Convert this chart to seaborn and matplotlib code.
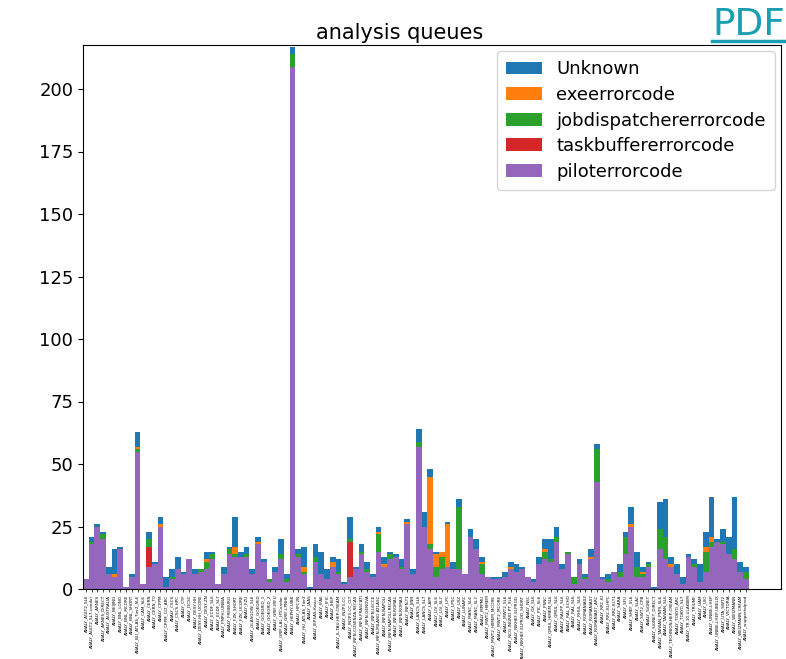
import matplotlib
matplotlib.use("Agg")
import matplotlib.pyplot as plt
from matplotlib.patches import Patch
from matplotlib.lines import Line2D
import numpy as np
import pandas as pd
import seaborn as sns

queues = [
    "ANALY_AGLT2_SL6", "ANALY_AGLT2_SL7-condor", "ANALY_ARNES", "ANALY_ARNES_DIRECT",
    "ANALY_AUSTRALIA", "ANALY_BEIJING", "ANALY_BNL_LONG", "ANALY_BNL_MCORE",
    "ANALY_BNL_SHORT", "ANALY_BU_ATLAS_Tier2_SL6", "ANALY_CAM_SL6", "ANALY_CERN",
    "ANALY_CERN_T0", "ANALY_CPPM", "ANALY_CPPM_CLT_ARC", "ANALY_CSCS",
    "ANALY_CSCS-HPC", "ANALY_CYF", "ANALY_DCSC", "ANALY_DESY-HH",
    "ANALY_DESY-HH_UCORE", "ANALY_DESY-ZN", "ANALY_ECDF_SL6", "ANALY_ECDF_SL7",
    "ANALY_FMPHI-UNIBA", "ANALY_FREIBURG", "ANALY_FZK_SHORT", "ANALY_FZK_UCORE",
    "ANALY_FZU", "ANALY_GLASGOW_SL6", "ANALY_GOEGRID", "ANALY_GOEGRID_1",
    "ANALY_GOEGRID_2", "ANALY_GRIF-IRFU", "ANALY_GRIF-LAL_HTCondor", "ANALY_GRIF-LPNHE",
    "ANALY_HEPHY-UIBK", "ANALY_HPC2N", "ANALY_HU_ATLAS_Tier2", "ANALY_IAAS",
    "ANALY_IEPSAS-Kosice", "ANALY_IFAE", "ANALY_IFIC", "ANALY_IHEP",
    "ANALY_IL-TAU-HEP-CREAM", "ANALY_IN2P3-CC", "ANALY_IN2P3-CC_CLT", "ANALY_INFN-COSENZA-RECAS",
    "ANALY_INFN-FRASCATI", "ANALY_INFN-GENOVA", "ANALY_INFN-LECCE", "ANALY_INFN-MILANO-ATLASC",
    "ANALY_INFN-NAPOLI", "ANALY_INFN-NAPOLI-RECAS", "ANALY_INFN-ROMA1", "ANALY_INFN-ROMA3",
    "ANALY_INFN-T1", "ANALY_JINR", "ANALY_LANCS_SL6", "ANALY_LANCS_SL7",
    "ANALY_LAPP", "ANALY_LIV_SL6", "ANALY_LIV_SL7", "ANALY_LPC",
    "ANALY_LPSC", "ANALY_LRZ", "ANALY_LUNARC", "ANALY_MANC_SL6",
    "ANALY_MANC_SL7", "ANALY_MPPMU", "ANALY_MWT2_HIMEM", "ANALY_MWT2_HIMEM_MCORE",
    "ANALY_MWT2_MCORE", "ANALY_MWT2_SL6", "ANALY_NCG-INGRID-PT_SL6", "ANALY_NIKHEF-ELPROD",
    "ANALY_NIKHEF-ELPROD_SHORT", "ANALY_NSC", "ANALY_OX_SL6", "ANALY_PIC_SL6",
    "ANALY_PSNC", "ANALY_QMUL_HIMEM_SL6", "ANALY_QMUL_SL6", "ANALY_RALPP_SL6",
    "ANALY_RAL_ECHO", "ANALY_RAL_SL6", "ANALY_RHUL_SL6", "ANALY_ROMANIA02",
    "ANALY_ROMANIA07", "ANALY_ROMANIA07_ARC", "ANALY_RRC-KI", "ANALY_RRC-KI-HPC",
    "ANALY_RRC-KI-T1", "ANALY_SARA", "ANALY_SFU", "ANALY_SHEF_SL6",
    "ANALY_SLAC", "ANALY_SWT2_CPB", "ANALY_SiGNET", "ANALY_SiGNET_DIRECT",
    "ANALY_TAIWAN_PNFS_SL6", "ANALY_TAIWAN_SL6", "ANALY_TECHNION-HEP-CREAM", "ANALY_TOKYO_ARC",
    "ANALY_TOKYO_SL7", "ANALY_TR-10-ULAKBIM", "ANALY_TRIUMF", "ANALY_UAM",
    "ANALY_UIO", "ANALY_UNIBE-LHEP", "ANALY_UNIBE-LHEP-UBELIX", "ANALY_UTA_SWT2",
    "ANALY_VICTORIA", "ANALY_WEIZMANN", "ANALY_WEIZMANN-CREAM", "ANALY_wuppertalprod",
]

piloterrorcode = [
    4, 18, 25, 20, 6, 5, 16, 1, 5, 55, 2, 9, 10, 25, 1, 4, 8, 6, 12, 6,
    7, 8, 12, 2, 6, 14, 13, 13, 13, 6, 18, 11, 3, 7, 12, 3, 209, 13, 6, 0,
    11, 6, 4, 9, 6, 2, 5, 8, 14, 7, 5, 15, 9, 12, 13, 8, 26, 6, 57, 25,
    16, 5, 8, 9, 8, 8, 6, 21, 16, 6, 5, 4, 4, 5, 8, 7, 8, 5, 3, 10,
    12, 11, 19, 8, 14, 2, 10, 4, 12, 43, 4, 3, 7, 5, 14, 25, 5, 5, 9, 0,
    16, 12, 9, 6, 2, 13, 9, 3, 7, 17, 19, 18, 14, 12, 7, 4,
]
taskbuffererrorcode = [
    0, 0, 0, 0, 0, 0, 0, 0, 0, 0, 0, 8, 0, 0, 0, 0, 0, 0, 0, 0,
    0, 0, 0, 0, 0, 0, 0, 0, 0, 0, 0, 0, 0, 0, 0, 0, 0, 0, 0, 0,
    0, 0, 0, 0, 0, 0, 14, 0, 0, 0, 0, 0, 0, 0, 0, 0, 0, 0, 0, 0,
    0, 0, 0, 0, 0, 0, 0, 0, 0, 0, 0, 0, 0, 0, 0, 0, 0, 0, 0, 0,
    0, 0, 0, 0, 0, 0, 0, 0, 0, 0, 0, 0, 0, 0, 0, 0, 0, 0, 0, 0,
    0, 0, 0, 0, 0, 0, 0, 0, 0, 0, 0, 0, 0, 0, 0, 0,
]
jobdispatchererrorcode = [
    0, 1, 0, 2, 0, 0, 0, 0, 0, 1, 0, 3, 0, 0, 0, 1, 0, 0, 0, 0,
    1, 3, 2, 0, 0, 2, 1, 0, 1, 0, 0, 0, 1, 0, 2, 1, 5, 1, 1, 0,
    2, 0, 0, 0, 1, 0, 1, 0, 1, 1, 0, 7, 0, 2, 0, 1, 0, 0, 2, 0,
    2, 4, 5, 0, 0, 25, 0, 0, 0, 4, 0, 0, 0, 0, 0, 0, 0, 0, 0, 0,
    3, 1, 2, 0, 1, 3, 0, 1, 0, 13, 0, 1, 0, 2, 7, 0, 4, 1, 1, 0,
    8, 9, 0, 0, 0, 0, 1, 0, 8, 2, 0, 1, 0, 4, 0, 3,
]
exeerrorcode = [
    0, 0, 0, 0, 0, 1, 0, 0, 0, 1, 0, 0, 0, 1, 0, 0, 0, 0, 0, 0,
    0, 1, 0, 0, 0, 0, 3, 0, 0, 0, 1, 0, 0, 0, 0, 0, 0, 0, 2, 0,
    0, 0, 0, 2, 0, 0, 0, 0, 0, 0, 0, 1, 1, 0, 0, 0, 1, 0, 0, 0,
    27, 5, 2, 17, 0, 0, 0, 0, 0, 1, 0, 0, 0, 0, 1, 0, 0, 0, 0, 0,
    1, 0, 0, 0, 0, 0, 0, 0, 1, 0, 0, 0, 0, 0, 0, 1, 0, 1, 0, 0,
    0, 0, 1, 0, 0, 0, 0, 0, 2, 2, 0, 0, 0, 0, 0, 0,
]
unknown = [
    0, 2, 1, 1, 3, 10, 1, 0, 1, 6, 0, 3, 1, 3, 4, 3, 5, 1, 0, 2,
    0, 3, 1, 0, 3, 1, 12, 2, 3, 2, 2, 1, 0, 2, 6, 2, 3, 2, 8, 1,
    5, 9, 4, 2, 5, 1, 9, 1, 3, 3, 1, 2, 3, 1, 1, 3, 1, 2, 5, 6,
    3, 1, 0, 1, 3, 3, 0, 3, 4, 2, 0, 1, 1, 2, 2, 3, 1, 0, 1, 3,
    4, 8, 4, 2, 0, 0, 2, 1, 3, 2, 1, 2, 0, 3, 2, 7, 6, 2, 1, 1,
    11, 15, 3, 4, 3, 1, 2, 7, 6, 16, 1, 5, 7, 21, 4, 2,
]

series_names = ["Unknown", "exeerrorcode", "jobdispatchererrorcode",
                "taskbuffererrorcode", "piloterrorcode"]
series_colors = ["#1f77b4", "#ff7f0e", "#2ca02c", "#d62728", "#9467bd"]

df = pd.DataFrame({
    "queue": queues,
    "piloterrorcode": piloterrorcode,
    "taskbuffererrorcode": taskbuffererrorcode,
    "jobdispatchererrorcode": jobdispatchererrorcode,
    "exeerrorcode": exeerrorcode,
    "Unknown": unknown,
})

W, H = 786, 659
fig = plt.figure(figsize=(W / 100, H / 100), dpi=100)
ax_left, ax_right, ax_top, ax_bottom = 83, 781, 45, 589
ax = fig.add_axes([ax_left / W, 1 - ax_bottom / H, (ax_right - ax_left) / W, (ax_bottom - ax_top) / H])

# stacked bars: draw cumulative totals from the top layer down
stack_bottom_up = ["piloterrorcode", "taskbuffererrorcode", "jobdispatchererrorcode",
                   "exeerrorcode", "Unknown"]
color_of = dict(zip(series_names, series_colors))
for k in range(len(stack_bottom_up), 0, -1):
    layers = stack_bottom_up[:k]
    cum = df[layers].sum(axis=1)
    sns.barplot(x=df["queue"], y=cum, color=color_of[stack_bottom_up[k - 1]],
                saturation=1, width=1.0, linewidth=0, ax=ax, order=queues)

n = len(queues)
pitch = 5.74
ax.set_xlim(-0.5, -0.5 + (ax_right - ax_left) / pitch)
ax.set_ylim(0, 217.6)
ax.set_yticks([0, 25, 50, 75, 100, 125, 150, 175, 200])
ax.tick_params(axis="y", labelsize=13)
ax.set_xticks(range(n))
ax.set_xticklabels(queues, rotation=90, fontsize=3.0)
ax.tick_params(axis="x", length=2, width=0.5, pad=2)
ax.set_xlabel("")
ax.set_ylabel("")
ax.set_title("analysis queues", fontsize=15, pad=4, x=(400 - ax_left) / (ax_right - ax_left))

handles = [Patch(facecolor=c, edgecolor="none") for c in series_colors]
ax.legend(handles, series_names, loc="upper right", fontsize=13, borderpad=0.5,
          labelspacing=0.42, borderaxespad=0.35)

fig.text(0.999, 0.99, "PDF", ha="right", va="top", color="#1a9fb2", fontsize=27)
fig.add_artist(Line2D([712 / W, 785 / W], [1 - 41 / H, 1 - 41 / H],
                      color="#1a9fb2", linewidth=2.5, transform=fig.transFigure))

fig.savefig("out.png", dpi=100)
